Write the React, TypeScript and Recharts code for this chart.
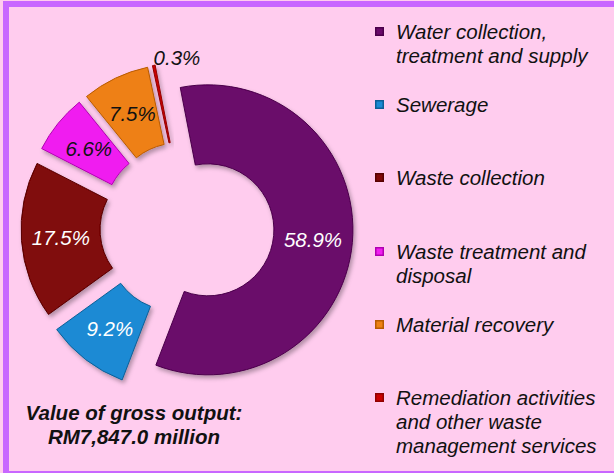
import React from 'react';
import { PieChart, Pie, Cell, Sector, Legend } from 'recharts';

const categories = [
  'Water collection, treatment and supply',
  'Sewerage',
  'Waste collection',
  'Waste treatment and disposal',
  'Material recovery',
  'Remediation activities and other waste management services',
];
const shares = [58.9, 9.2, 17.5, 6.6, 7.5, 0.3];
const totalLines = ['Value of gross output:', 'RM7,847.0 million'];

const COLORS = ['#6a0a6a', '#1a8ad4', '#800808', '#f01ef0', '#ee8014', '#cc0000'];
const EDGES = ['#4a004a', '#0d5f96', '#560000', '#b000b0', '#b85a00', '#900000'];
const LABEL_COLORS = ['#ffffff', '#ffffff', '#ffffff', '#111111', '#111111', '#111111'];

const RAD = Math.PI / 180;
const EXPLODE = 21;
const FONT = '"Liberation Sans", Arial, sans-serif';

const data = categories.map((name, i) => ({ name, value: shares[i] }));

function ExplodedSector(props: any) {
  const { cx, cy, midAngle, index } = props;
  const dx = EXPLODE * Math.cos(-midAngle * RAD);
  const dy = EXPLODE * Math.sin(-midAngle * RAD);
  return (
    <Sector
      {...props}
      cx={cx + dx}
      cy={cy + dy}
      stroke={EDGES[index]}
      strokeWidth={1}
      filter="url(#sliceShadow)"
    />
  );
}

function renderLabel(props: any) {
  const { cx, cy, midAngle, innerRadius, outerRadius, index, value } = props;
  const small = value < 1;
  const r = small ? outerRadius + EXPLODE + 6 : (innerRadius + outerRadius) / 2 + EXPLODE;
  const x = cx + r * Math.cos(-midAngle * RAD);
  const y = cy + r * Math.sin(-midAngle * RAD);
  return (
    <text
      x={small ? x + 1 : x}
      y={small ? y - 2 : y}
      fill={LABEL_COLORS[index]}
      textAnchor={small ? 'start' : 'middle'}
      dominantBaseline="central"
      fontSize={20.5}
      fontStyle="italic"
      fontFamily={FONT}
    >
      {`${Number(value).toFixed(1)}%`}
    </text>
  );
}

// keep the original category order (recharts sorts legend items by default)
function LegendBox() {
  return (
    <div style={{ fontFamily: FONT, fontStyle: 'italic', fontSize: 20.5, lineHeight: '24px', color: '#111' }}>
      {categories.map((name, i) => (
        <div key={name} style={{ position: 'relative', height: 73.2, paddingLeft: 24, width: 214 }}>
          <span
            style={{
              position: 'absolute',
              left: 3,
              top: 7,
              width: 9,
              height: 9,
              background: COLORS[i],
              boxShadow: `inset 0 0 0 1.5px ${EDGES[i]}`,
            }}
          />
          {name}
        </div>
      ))}
    </div>
  );
}

export default function App() {
  return (
    <div style={{ position: 'absolute', left: 0, top: 0, width: 614, height: 473, background: '#ffccee', overflow: 'hidden' }}>
      <div
        style={{
          position: 'absolute',
          left: 3,
          top: 1,
          width: 640,
          height: 476,
          boxSizing: 'border-box',
          border: '6px solid #c866ff',
        }}
      />
      <PieChart width={614} height={473} style={{ position: 'absolute', left: 0, top: 0 }}>
        <defs>
          <filter id="sliceShadow" x="-20%" y="-20%" width="140%" height="140%">
            <feDropShadow dx="2" dy="3" stdDeviation="2" floodColor="#000" floodOpacity="0.3" />
          </filter>
        </defs>
        <Pie
          data={data}
          dataKey="value"
          nameKey="name"
          cx={182}
          cy={223}
          innerRadius={66}
          outerRadius={145}
          startAngle={101}
          endAngle={-259}
          stroke="none"
          shape={ExplodedSector}
          activeShape={ExplodedSector}
          label={renderLabel}
          labelLine={false}
          isAnimationActive={false}
        >
          {data.map((d, i) => (
            <Cell key={d.name} fill={COLORS[i]} />
          ))}
        </Pie>
        <Legend
          layout="vertical"
          content={<LegendBox />}
          wrapperStyle={{ position: 'absolute', left: 372, top: 20, width: 240 }}
        />
      </PieChart>
      <div
        style={{
          position: 'absolute',
          left: 14,
          top: 401,
          width: 240,
          textAlign: 'center',
          fontFamily: FONT,
          fontStyle: 'italic',
          fontWeight: 'bold',
          fontSize: 20.5,
          lineHeight: '23.5px',
          color: '#111',
        }}
      >
        {totalLines.map((t) => (
          <div key={t}>{t}</div>
        ))}
      </div>
    </div>
  );
}
